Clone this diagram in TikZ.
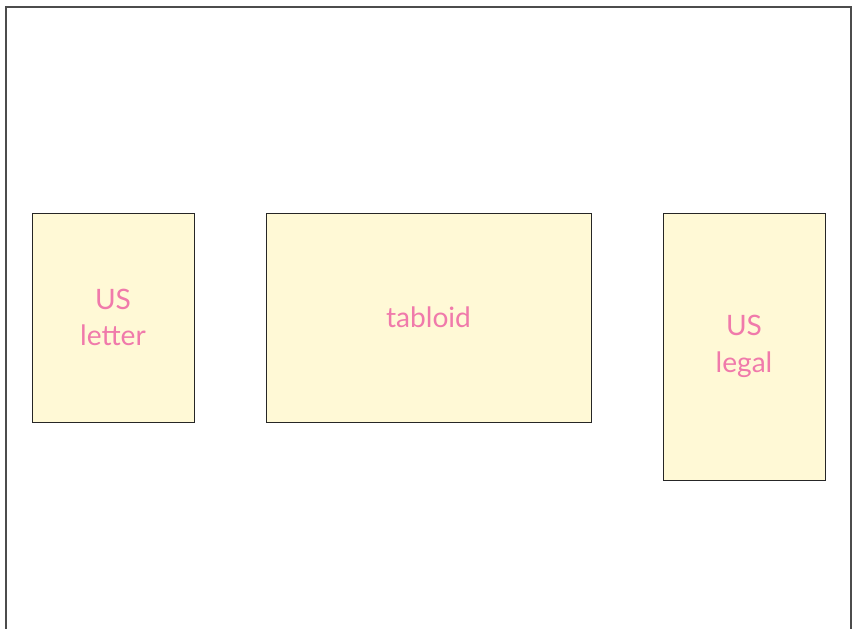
\documentclass[tikz,border=0pt]{standalone}
\usepackage{fontspec}
\setmainfont{Lato}
\definecolor{paperfill}{HTML}{FFF9D6}
\definecolor{labelpink}{HTML}{F07AAB}

\begin{document}
\begin{tikzpicture}[x=0.03cm,y=-0.03cm,
  paper/.style={draw=black!85, line width=0.8pt, fill=paperfill, text=labelpink,
    font=\fontsize{24}{31}\selectfont, align=center, inner sep=0pt}]
\useasboundingbox (0,0) rectangle (854,629);
\clip (0,0) rectangle (854,629);
\draw [black!70, line width=1.1pt] (6,660) -- (6,7) -- (851,7) -- (851,660);

\node [paper, minimum width=4.86cm, minimum height=6.27cm] (letter) at (113,317.5) {US\\letter};
\node [paper, minimum width=9.75cm, minimum height=6.27cm] (tabloid) at (428.5,317.5) {tabloid};
\node [paper, minimum width=4.86cm, minimum height=8.01cm] (legal) at (744,346.5) {US\\legal};

\end{tikzpicture}
\end{document}
